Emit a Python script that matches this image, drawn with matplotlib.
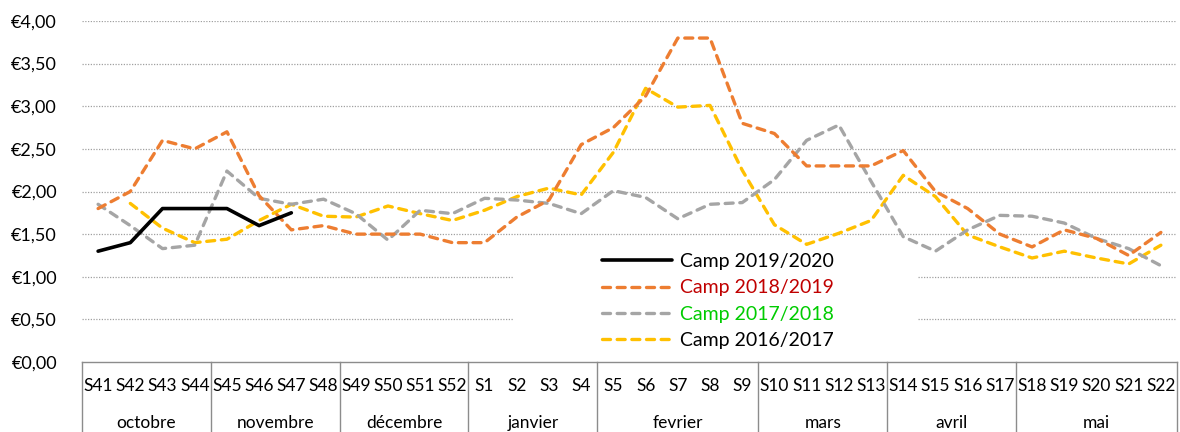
import numpy as np
import matplotlib
matplotlib.use("Agg")
import matplotlib.pyplot as plt
from matplotlib.patches import Rectangle

plt.rcParams['font.family'] = ['Lato', 'DejaVu Sans']

weeks = ['S41', 'S42', 'S43', 'S44', 'S45', 'S46', 'S47', 'S48', 'S49', 'S50',
         'S51', 'S52', 'S1', 'S2', 'S3', 'S4', 'S5', 'S6', 'S7', 'S8', 'S9',
         'S10', 'S11', 'S12', 'S13', 'S14', 'S15', 'S16', 'S17', 'S18', 'S19',
         'S20', 'S21', 'S22']
months = ['octobre', 'novembre', 'décembre', 'janvier', 'fevrier', 'mars', 'avril', 'mai']
month_sizes = [4, 4, 4, 4, 5, 4, 4, 5]

nan = np.nan
camp_2019_2020 = [1.30, 1.40, 1.80, 1.80, 1.80, 1.60, 1.75] + [nan] * 27
camp_2018_2019 = [1.80, 2.00, 2.60, 2.50, 2.70, 1.95, 1.55, 1.60, 1.50, 1.50,
                  1.50, 1.40, 1.40, 1.70, 1.90, 2.55, 2.75, 3.12, 3.80, 3.80,
                  2.80, 2.68, 2.30, 2.30, 2.30, 2.48, 2.00, 1.80, 1.50, 1.35,
                  1.55, 1.45, 1.25, 1.52]
camp_2017_2018 = [1.85, 1.60, 1.33, 1.37, 2.24, 1.92, 1.85, 1.91, 1.74, 1.43,
                  1.78, 1.74, 1.92, 1.90, 1.86, 1.74, 2.01, 1.93, 1.68, 1.85,
                  1.87, 2.14, 2.60, 2.78, 2.12, 1.47, 1.30, 1.55, 1.72, 1.71,
                  1.63, 1.45, 1.33, 1.13]
camp_2016_2017 = [nan, 1.86, 1.57, 1.40, 1.44, 1.66, 1.85, 1.71, 1.70, 1.83,
                  1.74, 1.66, 1.78, 1.94, 2.04, 1.96, 2.46, 3.21, 2.99, 3.01,
                  2.25, 1.61, 1.38, 1.51, 1.66, 2.19, 1.94, 1.49, 1.35, 1.22,
                  1.30, 1.22, 1.15, 1.37]

series = [
    ('Camp 2019/2020', camp_2019_2020, '#000000', '-', '#000000'),
    ('Camp 2018/2019', camp_2018_2019, '#ED7D31', '--', '#C00000'),
    ('Camp 2017/2018', camp_2017_2018, '#A5A5A5', '--', '#00CC00'),
    ('Camp 2016/2017', camp_2016_2017, '#FFC000', '--', '#000000'),
]

W, H = 1180, 432
fig = plt.figure(figsize=(W / 100, H / 100), dpi=100)
L, R, T, B = 82, 1177, 21, 362
ax = fig.add_axes([L / W, 1 - B / H, (R - L) / W, (B - T) / H])

x = np.arange(len(weeks))
ax.set_xlim(-0.5, len(weeks) - 0.5)
ax.set_ylim(0, 4)

# gridlines
for v in np.arange(0.5, 4.01, 0.5):
    ax.axhline(v, color='#A0A0A0', lw=0.9, ls=(0, (1, 1.2)), zorder=0.5)

# white legend area hiding gridlines
lx0, lx1, ly0, ly1 = 513, 917, 352, 245
ax.add_patch(Rectangle(((lx0 - L) / (R - L), (B - ly0) / (B - T)),
                       (lx1 - lx0) / (R - L), (ly0 - ly1) / (B - T),
                       transform=ax.transAxes, facecolor='white',
                       edgecolor='none', zorder=1))

handles = []
zs = [5, 4, 3, 2]
for (name, vals, col, ls, tcol), z in zip(series, zs):
    if ls == '-':
        ln, = ax.plot(x, vals, color=col, lw=2.6, ls='-', zorder=z,
                      solid_capstyle='round', solid_joinstyle='round')
    else:
        ln, = ax.plot(x, vals, color=col, lw=2.4, ls=(0, (2.4, 2.0)), zorder=z,
                      dash_capstyle='round', dash_joinstyle='round')
    handles.append(ln)

leg = fig.legend(handles, [s[0] for s in series], loc='upper left',
                 bbox_to_anchor=(602 / W, 1 - 253 / H), frameon=False,
                 fontsize=14, handlelength=3.6, handletextpad=0.4,
                 labelspacing=0.48, borderpad=0, borderaxespad=0)
for txt, s in zip(leg.get_texts(), series):
    txt.set_color(s[4])

# y axis
ax.set_yticks(np.arange(0, 4.01, 0.5))
ax.set_yticklabels(['€' + f'{v:.2f}'.replace('.', ',') for v in np.arange(0, 4.01, 0.5)],
                   fontsize=13)
ax.tick_params(axis='y', length=0, pad=18)
ax.set_xticks([])

for sp in ['top', 'right', 'left']:
    ax.spines[sp].set_visible(False)
ax.spines['bottom'].set_color('#8C8C8C')
ax.spines['bottom'].set_linewidth(1.0)

# category axis (weeks + months)
xt = ax.get_xaxis_transform()
wy = -(386 - B) / (B - T)
my = -(423 - B) / (B - T)
for xi, w in zip(x, weeks):
    ax.text(xi, wy, w, transform=xt, ha='center', va='center', fontsize=12.5,
            color='#000000', clip_on=False)

bounds = [-0.5]
for s in month_sizes:
    bounds.append(bounds[-1] + s)
bottom = -(H - B + 2) / (B - T)
for b in bounds:
    ax.plot([b, b], [0, bottom], transform=xt, color='#8C8C8C', lw=1.0,
            clip_on=False, zorder=1)
for i, m in enumerate(months):
    c = (bounds[i] + bounds[i + 1]) / 2
    ax.text(c, my, m, transform=xt, ha='center', va='center', fontsize=12.5,
            color='#000000', clip_on=False)

fig.savefig('out.png', dpi=100)
